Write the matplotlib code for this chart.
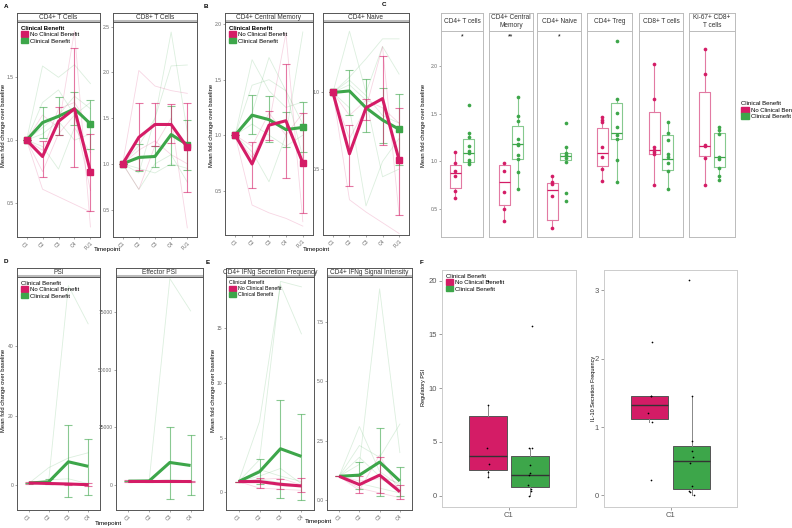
import matplotlib
matplotlib.use('Agg')
import matplotlib.pyplot as plt
from matplotlib.patches import Patch
import numpy as np

plt.rcParams['font.family'] = ['Liberation Sans', 'DejaVu Sans']

RED = '#D41C66'
GREEN = '#3DA64A'
RED_LIGHT = '#E27AA3'
GREEN_LIGHT = '#86C98F'
W, H = 792, 528

tp5 = ['C1', 'C2', 'C3', 'C4', 'FU1']
tp4 = ['C1', 'C2', 'C3', 'C4']
legend_labels = ['No Clinical Benefit', 'Clinical Benefit']

# ---- panel A: CD4+ T cells (mean, lower, upper)
cd4_red = ([1.0, 0.87, 1.15, 1.25, 0.75], [1.0, 0.71, 1.04, 0.79, 0.44], [1.0, 0.99, 1.26, 1.73, 1.05])
cd4_green = ([1.0, 1.14, 1.19, 1.25, 1.13], [1.0, 1.02, 1.04, 1.12, 0.93], [1.0, 1.26, 1.34, 1.38, 1.32])
cd4_red_pat = [[1.0, 0.61, 0.55, 0.49, 0.43], [1.0, 1.2, 1.1, 1.87, 0.31], [1.0, 0.92, 1.25, 1.3, 1.1],
               [1.0, 0.75, 1.05, 1.2, 0.6]]
cd4_green_pat = [[1.0, 1.59, 1.5, 1.6, 1.45], [1.0, 1.3, 1.4, 1.2, 1.3], [1.0, 0.95, 0.77, 1.1, 0.9],
                 [1.0, 1.1, 1.2, 1.35, 1.25], [1.0, 1.05, 1.15, 1.0, 1.05]]

# ---- panel A: CD8+ T cells
cd8_red = ([1.0, 1.29, 1.43, 1.43, 1.18], [1.0, 0.93, 1.2, 1.23, 0.69], [1.0, 1.66, 1.67, 1.65, 1.67])
cd8_green = ([1.0, 1.07, 1.08, 1.32, 1.21], [1.0, 0.92, 0.97, 0.99, 0.93], [1.0, 1.22, 1.19, 1.63, 1.48])
cd8_red_pat = [[1.0, 2.02, 1.85, 1.8, 1.77], [1.0, 0.72, 1.2, 1.5, 0.3], [1.0, 1.15, 1.25, 1.1, 1.0]]
cd8_green_pat = [[1.0, 1.2, 1.5, 2.44, 1.35], [1.0, 0.9, 1.5, 2.07, 2.08], [1.0, 0.72, 1.0, 1.1, 0.8],
                 [1.0, 1.05, 1.1, 1.3, 1.2], [1.0, 0.95, 0.9, 1.0, 0.95]]

# ---- panel B: CD4+ central memory
cm_red = ([1.0, 0.74, 1.09, 1.13, 0.75], [1.0, 0.52, 0.96, 0.61, 0.3], [1.0, 0.94, 1.22, 1.64, 1.2])
cm_green = ([1.0, 1.18, 1.14, 1.05, 1.07], [1.0, 1.01, 0.94, 0.89, 0.85], [1.0, 1.36, 1.35, 1.21, 1.3])
cm_red_pat = [[1.0, 0.37, 0.3, 0.25, 0.18], [1.0, 0.8, 1.1, 1.92, 0.22], [1.0, 0.9, 1.2, 1.0, 1.2]]
cm_green_pat = [[1.0, 1.68, 1.4, 1.25, 1.3], [1.0, 1.2, 1.7, 1.4, 0.8], [1.0, 0.85, 0.58, 1.0, 1.93],
                [1.0, 1.45, 1.5, 1.4, 1.1], [1.0, 1.1, 1.0, 0.9, 1.0]]

# ---- panel B: CD4+ naive
nv_red = ([1.0, 0.6, 0.9, 0.96, 0.56], [1.0, 0.39, 0.82, 0.66, 0.2], [1.0, 0.79, 0.96, 1.24, 0.9])
nv_green = ([1.0, 1.01, 0.9, 0.82, 0.76], [1.0, 0.85, 0.74, 0.67, 0.53], [1.0, 1.15, 1.09, 1.03, 0.99])
nv_red_pat = [[1.0, 0.3, 0.22, 0.15, 0.08], [1.0, 0.7, 0.9, 1.3, 0.2], [1.0, 0.85, 0.95, 0.9, 0.8]]
nv_green_pat = [[1.0, 1.4, 1.0, 1.3, 1.12], [1.0, 1.1, 1.22, 1.35, 1.35], [1.0, 0.9, 0.26, 0.55, 0.7],
                [1.0, 1.05, 0.95, 0.45, 0.5], [1.0, 1.08, 0.98, 0.85, 0.8]]

# ---- panel D: PSI and effector PSI
psi_red = ([0.6, 0.45, 0.3, 0.1], [0.3, 0.3, 0.1, -0.3], [0.9, 0.6, 0.5, 0.6])
psi_green = ([0.6, 0.9, 6.7, 5.4], [0.6, 0.2, -3.5, -2.8], [0.6, 1.6, 17.3, 13.2])
psi_red_pat = [[0.6, 0.5, 0.4, 0.1], [0.6, 0.2, 0.2, 0.2]]
psi_green_pat = [[0.5, 1.0, 57.5, 46.5], [0.5, 5.0, 7.8, 9.3], [0.5, 1.5, 1.8, 0.4]]
eff_red = ([1700, 1700, 1700, 1700], [1400, 1700, 1700, 1500], [2000, 1700, 1700, 1900])
eff_green = ([1700, 1800, 9800, 8500], [1700, 1500, -5900, -4500], [1700, 2100, 25200, 21500])
eff_red_pat = [[1700, 1700, 1700, 1700]]
eff_green_pat = [[1700, 1700, 89500, 75500], [1700, 1700, 2500, 1700]]

# ---- panel E: CD4+ IFNg secretion frequency and signal intensity
sf_red = ([1.0, 1.0, 0.75, 0.6], [1.0, 0.45, 0.3, 0.0], [1.0, 1.3, 1.2, 1.3])
sf_green = ([1.0, 1.9, 4.0, 3.3], [1.0, 0.8, -0.5, -0.7], [1.0, 3.1, 8.5, 7.2])
sf_red_pat = [[1.0, 1.2, 1.3, 0.7], [1.0, 0.4, 0.3, 0.2], [1.0, 0.9, 0.6, 0.5]]
sf_green_pat = [[1.0, 3.0, 19.3, 18.8], [1.0, 6.5, 19.0, 14.5], [1.0, 2.1, 1.5, 1.0],
                [1.0, 1.5, 2.2, 0.8], [1.0, 1.2, 0.9, 0.6]]
si_red = ([1.0, 0.65, 1.05, 0.35], [1.0, 0.3, 0.3, 0.05], [1.0, 1.0, 1.8, 0.65])
si_green = ([1.0, 1.05, 1.6, 0.8], [1.0, 0.45, 0.15, 0.15], [1.0, 1.6, 3.05, 1.4])
si_red_pat = [[1.0, 0.4, 1.9, 0.3], [1.0, 0.5, 0.3, 0.1], [1.0, 0.8, 0.9, 0.5]]
si_green_pat = [[1.0, 1.5, 8.9, 2.0], [1.0, 3.1, 1.2, 0.6], [1.0, 2.3, 1.8, 3.2],
                [1.0, 1.8, 1.0, 0.7], [1.0, 0.7, 0.5, 0.3]]

# ---- panel C: box stats (whislo, q1, med, q3, whishi) and points
c_titles = ['CD4+ T cells', 'CD4+ Central\nMemory', 'CD4+ Naive', 'CD4+ Treg', 'CD8+ T cells', 'Ki-67+ CD8+\nT cells']
c_signif = ['*', '**', '*', '', '', '']
c_red_box = [(0.61, 0.72, 0.875, 0.96, 1.10), (0.37, 0.54, 0.78, 0.96, 0.98), (0.30, 0.38, 0.69, 0.77, 0.84),
             (0.79, 0.95, 1.09, 1.35, 1.46), (0.75, 1.07, 1.115, 1.52, 2.02), (0.75, 1.055, 1.16, 1.73, 2.18)]
c_green_box = [(0.96, 0.99, 1.09, 1.23, 1.30), (0.71, 1.02, 1.18, 1.37, 1.68), (0.99, 1.01, 1.05, 1.08, 1.15),
               (0.78, 1.23, 1.30, 1.61, 1.65), (0.71, 0.91, 1.02, 1.27, 1.41), (0.80, 0.94, 1.04, 1.30, 1.355)]
c_red_pts = [[1.10, 0.98, 0.90, 0.84, 0.68, 0.61], [0.98, 0.90, 0.67, 0.49, 0.37],
             [0.84, 0.78, 0.76, 0.63, 0.30], [1.46, 1.435, 1.41, 1.15, 1.04, 0.92, 0.79],
             [2.02, 1.655, 1.15, 1.12, 1.10, 1.07, 0.75], [2.18, 1.92, 1.17, 1.16, 1.03, 0.75]]
c_green_pts = [[1.59, 1.30, 1.25, 1.16, 1.11, 1.08, 1.01, 0.99, 0.965],
               [1.68, 1.47, 1.42, 1.23, 1.18, 1.17, 1.06, 1.02, 0.88, 0.71],
               [1.40, 1.15, 1.08, 1.06, 1.03, 0.99, 0.66, 0.575],
               [2.26, 1.65, 1.51, 1.355, 1.27, 1.23, 1.01, 0.78],
               [1.41, 1.30, 1.22, 1.07, 1.04, 0.975, 0.90, 0.71],
               [1.355, 1.33, 1.28, 1.045, 1.02, 0.93, 0.84, 0.80]]

# ---- panel F: regulatory PSI and IL-10 secretion frequency
f_psi_red_box = (1.7, 2.4, 3.65, 7.45, 8.45)
f_psi_green_box = (0.0, 0.85, 1.95, 3.65, 4.4)
f_psi_red_pts = [20.0, 8.45, 4.4, 2.95, 2.2, 1.7]
f_psi_red_dx = [0.0, 0.0, -0.01, 0.015, 0.0, 0.0]
f_psi_green_pts = [15.8, 4.4, 4.4, 2.9, 2.1, 1.95, 1.0, 0.6, 0.4, 0.0]
f_psi_green_dx = [0.02, -0.015, 0.02, 0.0, 0.0, -0.015, -0.02, 0.01, 0.005, -0.01]
f_il_red_box = (1.08, 1.12, 1.32, 1.46, 1.46)
f_il_green_box = (0.0, 0.1, 0.51, 0.72, 1.46)
f_il_red_pts = [2.24, 1.46, 1.45, 1.21, 1.08, 0.22]
f_il_red_dx = [0.02, 0.015, 0.01, -0.01, 0.025, 0.01]
f_il_green_pts = [3.15, 1.46, 0.79, 0.65, 0.56, 0.47, 0.14, 0.06, 0.05, 0.0]
f_il_green_dx = [-0.025, 0.0, 0.005, 0.0, 0.01, -0.01, 0.005, -0.02, -0.01, 0.02]


fig = plt.figure(figsize=(7.92, 5.28), dpi=100)


def frac(x0, y0, x1, y1):
    return [x0 / W, 1 - y1 / H, (x1 - x0) / W, (y1 - y0) / H]


def legend_handles():
    return [Patch(facecolor=RED, edgecolor=RED), Patch(facecolor=GREEN, edgecolor=GREEN)]


def style_ticks(ax, size=3.6):
    ax.tick_params(axis='both', labelsize=size, length=1.5, width=0.4, colors='#666666', pad=1)


def make_strip(x0, y0, x1, y1, title, edge, band):
    strip = fig.add_axes(frac(x0, y0, x1, y1))
    strip.set_xlim(0, 1)
    strip.set_ylim(0, 1)
    strip.set_xticks([])
    strip.set_yticks([])
    strip.text(0.5, 0.55, title, ha='center', va='center', fontsize=4.7, color='#333333',
               linespacing=1.2, transform=strip.transAxes)
    for s in strip.spines.values():
        s.set_color(edge)
        s.set_linewidth(0.7)
    if band:
        strip.axhline(0.07, color='#bbbbbb', lw=2.2)
    return strip


def line_panel(x0, y0, x1, y1, title, labels, red, green, red_pat, green_pat, ylim, yticks, yticklabels,
               squares=True):
    make_strip(x0, y0, x1, y0 + 9, title, '#555555', True)
    ax = fig.add_axes(frac(x0, y0 + 9, x1, y1))
    x = np.arange(len(labels))
    for pat in green_pat:
        ax.plot(x, pat, color=GREEN, lw=0.6, alpha=0.18)
    for pat in red_pat:
        ax.plot(x, pat, color=RED, lw=0.6, alpha=0.18)
    for (mean, lo, hi), col in [(green, GREEN), (red, RED)]:
        mean = np.array(mean)
        ax.errorbar(x, mean, yerr=[mean - np.array(lo), np.array(hi) - mean], fmt='none', ecolor=col,
                    alpha=0.6, elinewidth=0.8, capsize=2.6, capthick=0.8)
    for (mean, lo, hi), col in [(green, GREEN), (red, RED)]:
        ax.plot(x, mean, color=col, lw=2.2, solid_capstyle='butt')
        if squares:
            ax.plot([x[0], x[-1]], [mean[0], mean[-1]], 's', color=col, ms=4)
    ax.set_xlim(-0.6, len(labels) - 0.4)
    ax.set_ylim(*ylim)
    ax.set_yticks(yticks)
    ax.set_yticklabels(yticklabels)
    ax.set_xticks(x)
    ax.set_xticklabels(labels, rotation=45, ha='right', rotation_mode='anchor')
    style_ticks(ax)
    for s in ax.spines.values():
        s.set_color('#555555')
        s.set_linewidth(0.7)
    return ax


def add_legend(ax, bold=True, size=4.3):
    leg = ax.legend(legend_handles(), legend_labels, title='Clinical Benefit', loc='upper left',
                    frameon=False, fontsize=size, title_fontsize=size, handlelength=1.3, handleheight=1.1,
                    handletextpad=0.3, labelspacing=0.1, borderaxespad=0.4, borderpad=0.2)
    leg._legend_box.align = 'left'
    if bold:
        leg.get_title().set_fontweight('bold')
    return leg


# ---------------- A
ax = line_panel(17, 13, 100, 237, 'CD4+ T Cells', tp5, cd4_red, cd4_green, cd4_red_pat, cd4_green_pat,
                (0.23, 1.94), [0.5, 1.0, 1.5], ['0.5', '1.0', '1.5'])
add_legend(ax)
line_panel(113, 13, 197, 237, 'CD8+ T Cells', tp5, cd8_red, cd8_green, cd8_red_pat, cd8_green_pat,
           (0.2, 2.55), [0.5, 1.0, 1.5, 2.0, 2.5], ['0.5', '1.0', '1.5', '2.0', '2.5'])
fig.text(4 / W, 1 - 125 / H, 'Mean fold change over baseline', rotation=90, ha='center', va='center', fontsize=4.2)
fig.text(107 / W, 1 - 250 / H, 'Timepoint', ha='center', va='center', fontsize=4.5)

# ---------------- B
ax = line_panel(225, 13, 313, 235, 'CD4+ Central Memory', tp5, cm_red, cm_green, cm_red_pat, cm_green_pat,
                (0.10, 2.02), [0.5, 1.0, 1.5, 2.0], ['0.5', '1.0', '1.5', '2.0'])
add_legend(ax)
line_panel(323, 13, 409, 235, 'CD4+ Naive', tp5, nv_red, nv_green, nv_red_pat, nv_green_pat,
           (0.07, 1.46), [0.5, 1.0], ['0.5', '1.0'])
fig.text(211 / W, 1 - 125 / H, 'Mean fold change over baseline', rotation=90, ha='center', va='center', fontsize=4.2)
fig.text(316 / W, 1 - 249 / H, 'Timepoint', ha='center', va='center', fontsize=4.5)

# ---------------- D
ax = line_panel(17, 268, 100, 510, 'PSI', tp4, psi_red, psi_green, psi_red_pat, psi_green_pat,
                (-7.2, 60), [0, 20, 40], ['0', '20', '40'], squares=False)
add_legend(ax, bold=False)
line_panel(116, 268, 203, 510, 'Effector PSI', tp4, eff_red, eff_green, eff_red_pat, eff_green_pat,
           (-10800, 90200), [0, 25000, 50000, 75000], ['0', '25000', '50000', '75000'], squares=False)
fig.text(4 / W, 1 - 390 / H, 'Mean fold change over baseline', rotation=90, ha='center', va='center', fontsize=4.2)
fig.text(108 / W, 1 - 524 / H, 'Timepoint', ha='center', va='center', fontsize=4.5)

# ---------------- E
ax = line_panel(226, 268, 314, 510, 'CD4+ IFNg Secretion Frequency', tp4, sf_red, sf_green, sf_red_pat,
                sf_green_pat, (-1.6, 19.7), [0, 5, 10, 15], ['0', '5', '10', '15'], squares=False)
add_legend(ax, bold=False, size=3.8)
line_panel(327, 268, 412, 510, 'CD4+ IFNg Signal Intensity', tp4, si_red, si_green, si_red_pat, si_green_pat,
           (-0.42, 9.4), [0, 2.5, 5.0, 7.5], ['0.0', '2.5', '5.0', '7.5'], squares=False)
fig.text(213 / W, 1 - 390 / H, 'Mean fold change over baseline', rotation=90, ha='center', va='center', fontsize=4.2)
fig.text(318 / W, 1 - 522 / H, 'Timepoint', ha='center', va='center', fontsize=4.5)

# ---------------- C
c_x = [(441, 483), (489, 533), (537, 581), (587, 632), (639, 683), (689, 735)]


def stats_from(box):
    lo, q1, med, q3, hi = box
    return {'whislo': lo, 'q1': q1, 'med': med, 'q3': q3, 'whishi': hi, 'fliers': []}


for i, (xa, xb) in enumerate(c_x):
    make_strip(xa, 13, xb, 31, c_titles[i], '#bbbbbb', False)
    ax = fig.add_axes(frac(xa, 31, xb, 237))
    for pos, box, pts, col, light in [(0.81, c_red_box[i], c_red_pts[i], RED, RED_LIGHT),
                                      (1.19, c_green_box[i], c_green_pts[i], GREEN, GREEN_LIGHT)]:
        ax.bxp([stats_from(box)], positions=[pos], widths=0.3, showfliers=False, showcaps=False,
               boxprops=dict(color=light, lw=0.8), whiskerprops=dict(color=light, lw=0.8),
               medianprops=dict(color=col, lw=0.9))
        ax.scatter([pos] * len(pts), pts, s=7, color=col, zorder=3, linewidths=0)
    ax.set_xlim(0.4, 1.6)
    ax.set_ylim(0.2, 2.37)
    ax.set_xticks([])
    if i == 0:
        ax.set_yticks([0.5, 1.0, 1.5, 2.0])
        ax.set_yticklabels(['0.5', '1.0', '1.5', '2.0'])
        style_ticks(ax)
    else:
        ax.set_yticks([])
    if c_signif[i]:
        ax.text(0.5, 0.99, c_signif[i], transform=ax.transAxes, ha='center', va='top', fontsize=5)
    for s in ax.spines.values():
        s.set_color('#bbbbbb')
        s.set_linewidth(0.7)
fig.text(424 / W, 1 - 125 / H, 'Mean fold change over baseline', rotation=90, ha='center', va='center', fontsize=4.2)
leg = fig.legend(legend_handles(), legend_labels, title='Clinical Benefit', loc='upper left',
                 bbox_to_anchor=(737 / W, 1 - 97 / H), frameon=False, fontsize=4.3, title_fontsize=4.3,
                 handlelength=1.3, handleheight=1.1, handletextpad=0.3, labelspacing=0.1, borderpad=0.2)
leg._legend_box.align = 'left'

# ---------------- F
f_specs = [((442, 576), f_psi_red_box, f_psi_green_box, f_psi_red_pts, f_psi_red_dx, f_psi_green_pts,
            f_psi_green_dx, (-1.05, 21.0), [0, 5, 10, 15, 20], 'Regulatory PSI', 423),
           ((604, 737), f_il_red_box, f_il_green_box, f_il_red_pts, f_il_red_dx, f_il_green_pts,
            f_il_green_dx, (-0.17, 3.30), [0, 1, 2, 3], 'IL-10 Secretion Frequency', 593)]
for j, (xr, rb, gb, rp, rdx, gp, gdx, ylim, yt, ylab, ylx) in enumerate(f_specs):
    ax = fig.add_axes(frac(xr[0], 270, xr[1], 507))
    for pos, box, col in [(0.81, rb, RED), (1.19, gb, GREEN)]:
        ax.bxp([stats_from(box)], positions=[pos], widths=0.34, showfliers=False, showcaps=False,
               patch_artist=True, boxprops=dict(facecolor=col, edgecolor='#555555', lw=0.7),
               whiskerprops=dict(color='#888888', lw=0.7), medianprops=dict(color='#333333', lw=1.0))
    ax.scatter(0.81 + np.array(rdx), rp, s=1.5, color='black', zorder=3, linewidths=0)
    ax.scatter(1.19 + np.array(gdx), gp, s=1.5, color='black', zorder=3, linewidths=0)
    ax.set_xlim(0.4, 1.6)
    ax.set_ylim(*ylim)
    ax.set_yticks(yt)
    ax.set_xticks([1])
    ax.set_xticklabels(['C1'])
    ax.tick_params(axis='both', labelsize=5.5, length=2, width=0.4, colors='#555555', pad=1.5)
    for s in ax.spines.values():
        s.set_color('#cccccc')
        s.set_linewidth(0.7)
    fig.text(ylx / W, 1 - 388 / H, ylab, rotation=90, ha='center', va='center', fontsize=4.0)
    if j == 0:
        add_legend(ax, bold=False, size=4.3)

# panel letters
for lab, px, py in [('A', 6, 7), ('B', 206, 7), ('C', 384, 5), ('D', 6, 261), ('E', 208, 262), ('F', 421, 263)]:
    fig.text(px / W, 1 - py / H, lab, ha='center', va='center', fontsize=4.5, fontweight='bold')

fig.savefig('out.png', dpi=100)
